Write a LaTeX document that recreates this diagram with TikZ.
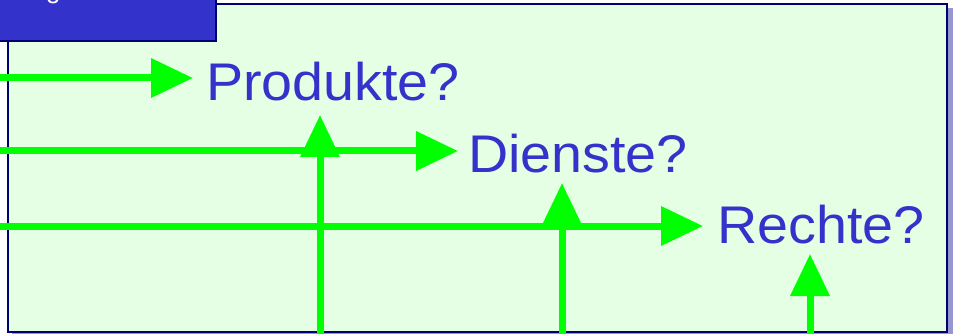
\documentclass[tikz,border=0pt]{standalone}
\usepackage{fontspec}
\setmainfont{Liberation Sans}
\newfontfamily\qfont[FakeStretch=1.05]{Liberation Sans}
\usetikzlibrary{arrows.meta}
\definecolor{panelfill}{RGB}{229,255,229}
\definecolor{navy}{RGB}{0,0,110}
\definecolor{boxblue}{RGB}{51,51,204}
\definecolor{shadowc}{RGB}{150,150,210}
\definecolor{arrowgreen}{RGB}{0,255,0}
\tikzset{
  greenarrow/.style={draw=arrowgreen, line width=7pt, -{Triangle[length=42pt,width=38pt]}},
  qtext/.style={text=boxblue, inner sep=0pt, anchor=base west, font=\qfont\fontsize{53}{60}\selectfont},
  paneltitle/.style={text=white, inner sep=0pt, anchor=base west, font=\fontsize{26}{30}\selectfont}
}
\begin{document}
\begin{tikzpicture}[x=1pt,y=-1pt]
\useasboundingbox (0,0) rectangle (953,334);
\fill[white] (0,0) rectangle (953,334);
% shadow and panel
\fill[shadowc] (12,8) rectangle (953,336);
\draw[navy, line width=2pt, fill=panelfill] (8,4) rectangle (947,332);
% title box
\draw[navy, line width=2pt, fill=boxblue] (-3,-3) rectangle (216,41);
\node[paneltitle] (title) at (20,-1) {Ergebnisse?};
% texts
\node[qtext] (prod) at (206,101) {Produkte?};
\node[qtext] (dien) at (468,172) {Dienste?};
\node[qtext] (rech) at (717,243) {Rechte?};
% coordinates for arrows
\coordinate (h1s) at (-2,78);  \coordinate (h1e) at (193,78);
\coordinate (h2s) at (-2,151); \coordinate (h2e) at (458,151);
\coordinate (h3s) at (-2,226); \coordinate (h3e) at (703,226);
\coordinate (v1s) at (320,336); \coordinate (v1e) at (320,115);
\coordinate (v2s) at (562,336); \coordinate (v2e) at (562,183);
\coordinate (v3s) at (810,336); \coordinate (v3e) at (810,254);
\draw[greenarrow] (h1s) -- (h1e);
\draw[greenarrow] (h2s) -- (h2e);
\draw[greenarrow] (h3s) -- (h3e);
\draw[greenarrow] (v1s) -- (v1e);
\draw[greenarrow] (v2s) -- (v2e);
\draw[greenarrow] (v3s) -- (v3e);
\end{tikzpicture}
\end{document}
